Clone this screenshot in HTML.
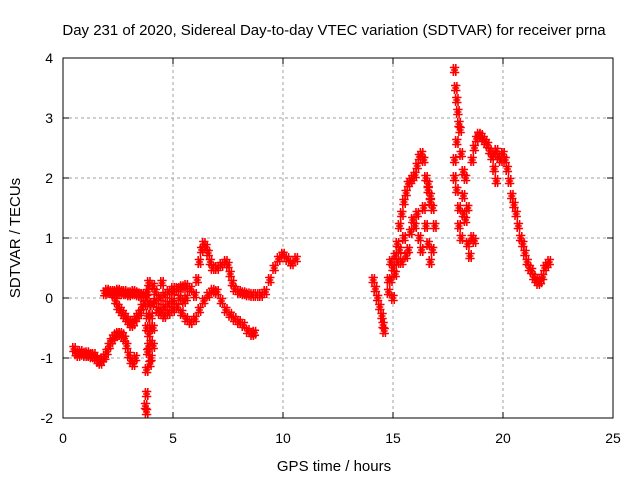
<!DOCTYPE html>
<html><head><meta charset="utf-8"><style>
body{margin:0;background:#fff}
svg{display:block;font-family:"Liberation Sans",sans-serif}
</style></head><body>
<svg id="chart" width="640" height="480">
<rect width="640" height="480" fill="#fff"/>
<text x="334" y="35" font-size="15" text-anchor="middle">Day 231 of 2020, Sidereal Day-to-day VTEC variation (SDTVAR) for receiver prna</text>
<text x="334" y="471" font-size="15" text-anchor="middle">GPS time / hours</text>
<text x="0" y="0" font-size="15" text-anchor="middle" transform="translate(20,238) rotate(-90)">SDTVAR / TECUs</text>
<g id="grid"></g>
<g id="ticks"></g>
<g id="pts"></g>
<rect x="63" y="58" width="550" height="360" fill="none" stroke="#000" stroke-width="1"/>
</svg>
<script>
const xTicks=[0,5,10,15,20,25];
const yTicks=[-2,-1,0,1,2,3,4];
const trackA=[[0.5,-0.85],[0.6,-0.92],[0.7,-0.95],[0.8,-0.9],[0.9,-0.93],[1.0,-0.95],[1.1,-0.92],[1.2,-0.95],[1.3,-0.97],[1.4,-0.95],[1.5,-1.0],[1.6,-1.05],[1.7,-1.08],[1.8,-1.02],[1.9,-0.98],[2.0,-0.9],[2.1,-0.8],[2.2,-0.72],[2.3,-0.66],[2.4,-0.62],[2.5,-0.6],[2.6,-0.6],[2.7,-0.62],[2.8,-0.68],[2.9,-0.8],[3.0,-0.95],[3.1,-1.05],[3.2,-1.1],[3.3,-1.0]];
const trackB=[[1.9,0.08],[2.0,0.12],[2.1,0.1],[2.2,0.1],[2.3,0.08],[2.4,0.1],[2.5,0.12],[2.6,0.1],[2.7,0.08],[2.8,0.1],[2.9,0.08],[3.0,0.06],[3.1,0.08],[3.2,0.1],[3.3,0.08],[3.4,0.06],[3.5,0.05],[3.6,0.05],[3.7,0.05]];
const trackC=[[2.3,0.05],[2.4,-0.05],[2.5,-0.15],[2.6,-0.2],[2.7,-0.25],[2.8,-0.3],[2.9,-0.35],[3.0,-0.4],[3.1,-0.45],[3.2,-0.42],[3.3,-0.35],[3.4,-0.3],[3.5,-0.25],[3.6,-0.15],[3.7,-0.1],[3.8,0.0]];
const scatterL=[[3.75,-1.8],[3.8,-1.9],[3.8,-1.6],[3.8,-1.2],[3.85,-0.9],[3.9,-0.8],[3.9,-0.6],[3.8,-0.5],[3.85,-0.3],[3.9,-0.1],[3.85,0.1],[3.9,0.25],[4.0,-1.0],[4.0,-0.75],[4.1,-0.8],[4.0,-0.3],[4.05,-0.1],[4.1,0.2],[4.2,0.1],[4.2,-0.05],[4.3,-0.2],[4.4,-0.25],[4.1,-0.5],[3.95,-1.1],[4.0,-0.5],[4.6,-0.3],[5.0,-0.2],[5.3,0.0],[5.5,-0.05],[5.0,0.15],[4.8,-0.25],[5.6,0.0],[4.5,0.25]];
const trackD=[[4.4,-0.2],[4.6,-0.15],[4.8,-0.1],[5.0,-0.05],[5.2,-0.15],[5.4,-0.25],[5.6,-0.35],[5.8,-0.4],[6.0,-0.35],[6.2,-0.2],[6.4,-0.05],[6.6,0.05],[6.8,0.12],[7.0,0.1],[7.2,-0.05],[7.4,-0.2],[7.6,-0.28],[7.8,-0.35],[8.0,-0.4],[8.2,-0.45],[8.4,-0.55],[8.6,-0.6],[8.7,-0.58]];
const trackE=[[4.4,0.0],[4.6,0.05],[4.8,0.1],[5.0,0.1],[5.2,0.15],[5.4,0.18],[5.6,0.2],[5.8,0.15],[6.0,0.05],[6.1,0.3],[6.2,0.6],[6.3,0.8],[6.4,0.9],[6.5,0.85],[6.6,0.75],[6.7,0.6],[6.8,0.5],[7.0,0.5],[7.2,0.55],[7.4,0.6],[7.5,0.55],[7.6,0.4],[7.7,0.25],[7.8,0.15],[8.0,0.1],[8.2,0.08],[8.4,0.06],[8.6,0.05],[8.8,0.05],[9.0,0.05],[9.2,0.1],[9.4,0.3],[9.6,0.5],[9.8,0.65],[10.0,0.72],[10.2,0.65],[10.4,0.58],[10.6,0.65]];
const trackF=[[14.1,0.3],[14.2,0.15],[14.3,0.0],[14.4,-0.15],[14.5,-0.3],[14.55,-0.45],[14.6,-0.55]];
const trackG=[[14.8,0.1],[14.9,0.3],[15.0,0.5],[15.1,0.7],[15.2,0.9],[15.3,1.2],[15.4,1.4],[15.5,1.6],[15.6,1.75],[15.7,1.9],[15.8,1.95],[15.9,2.0],[16.0,2.05],[16.1,2.2],[16.2,2.35],[16.3,2.4],[16.4,2.3],[16.5,2.0],[16.6,1.8],[16.7,1.6]];
const trackH=[[14.8,0.3],[14.9,0.6],[15.0,0.0],[15.1,0.4],[15.2,0.6],[15.3,0.8],[15.4,0.6],[15.5,1.0],[15.6,0.7],[15.7,0.8],[15.8,1.1],[15.9,1.3],[16.0,1.2],[16.1,1.4],[16.2,1.0],[16.3,0.8],[16.4,1.5],[16.5,1.2],[16.6,0.9],[16.7,0.6],[16.8,0.8],[16.9,1.2],[16.6,1.9],[16.7,1.7],[16.8,1.5]];
const trackI=[[17.8,3.8],[17.85,3.5],[17.9,3.3],[17.95,3.1],[18.0,2.9],[18.05,2.8],[17.9,2.6],[17.8,2.3],[17.8,2.0],[17.9,1.8],[18.0,1.5],[18.0,1.2],[18.1,1.0],[18.2,1.4],[18.2,1.7],[18.3,1.3],[18.4,1.5],[18.4,0.9],[18.5,0.7],[18.6,1.0],[18.7,0.95],[18.3,2.0],[18.1,2.4],[18.2,2.1]];
const trackJ=[[18.6,2.3],[18.7,2.5],[18.8,2.65],[18.9,2.72],[19.0,2.7],[19.1,2.65],[19.2,2.6],[19.3,2.55],[19.4,2.45],[19.5,2.35],[19.6,2.4],[19.7,2.45],[19.8,2.35],[19.9,2.3],[20.0,2.4],[20.1,2.3],[20.2,2.15],[20.3,1.95],[20.4,1.7],[20.5,1.55],[20.6,1.4],[20.7,1.2],[20.8,1.0],[20.9,0.9],[21.0,0.75],[21.1,0.6],[21.2,0.5],[21.3,0.45],[21.4,0.35],[21.5,0.3],[21.6,0.25],[21.7,0.28],[21.8,0.35],[21.9,0.5],[22.0,0.55],[22.1,0.6],[19.6,2.15],[19.7,1.95]];
const tracks=[trackA,trackB,trackC,scatterL,trackD,trackE,trackF,trackG,trackH,trackI,trackJ];
const NS='http://www.w3.org/2000/svg';
const X0=63,X1=613,Y0=418,Y1=58;
function sx(h){return X0+(h-0)/(25-0)*(X1-X0);}
function sy(v){return Y0-(v-(-2))/(4-(-2))*(Y0-Y1);}
const grid=document.getElementById('grid'),ticks=document.getElementById('ticks'),pts=document.getElementById('pts');
function mk(tag,attrs,parent){const e=document.createElementNS(NS,tag);for(const k in attrs)e.setAttribute(k,attrs[k]);parent.appendChild(e);return e;}
xTicks.forEach(t=>{
  const x=sx(t);
  if(t>0&&t<25){const g=mk('line',{x1:x,x2:x,y1:Y1,y2:Y0,stroke:'#a0a0a0','stroke-dasharray':'3,3'},grid);
  
  }
  mk('line',{x1:x,x2:x,y1:Y0,y2:Y0-6,stroke:'#000'},ticks);
  mk('line',{x1:x,x2:x,y1:Y1,y2:Y1+6,stroke:'#000'},ticks);
  const l=mk('text',{x:x,y:443,'font-size':14,'text-anchor':'middle'},ticks);
  l.textContent=t;
  
  
});
yTicks.forEach(t=>{
  const y=sy(t);
  if(t>-2&&t<4){const g=mk('line',{x1:X0,x2:X1,y1:y,y2:y,stroke:'#a0a0a0','stroke-dasharray':'3,3'},grid);
  
  }
  mk('line',{x1:X0,x2:X0+6,y1:y,y2:y,stroke:'#000'},ticks);
  mk('line',{x1:X1,x2:X1-6,y1:y,y2:y,stroke:'#000'},ticks);
  const l=mk('text',{x:53,y:y+5,'font-size':14,'text-anchor':'end'},ticks);
  l.textContent=t;
  
  
});
// each sample is drawn as a small cluster of "+" marks to mimic the dense per-epoch plotting
const cluster=[[0,0],[-1.2,-2.5],[1.2,2.5],[1.2,-2.5],[-1.2,2.5]];
tracks.forEach(tr=>tr.forEach(p=>{
  const x=sx(p[0]),y=sy(p[1]);
  let d='';
  cluster.forEach(o=>{const cx=x+o[0],cy=y+o[1];d+=`M${cx-3.5},${cy}H${cx+3.5}M${cx},${cy-3.5}V${cy+3.5}`;});
  const m=mk('path',{d:d,stroke:'#ff0000','stroke-width':1.6,fill:'none'},pts);
  
  
}));
</script>
</body></html>
